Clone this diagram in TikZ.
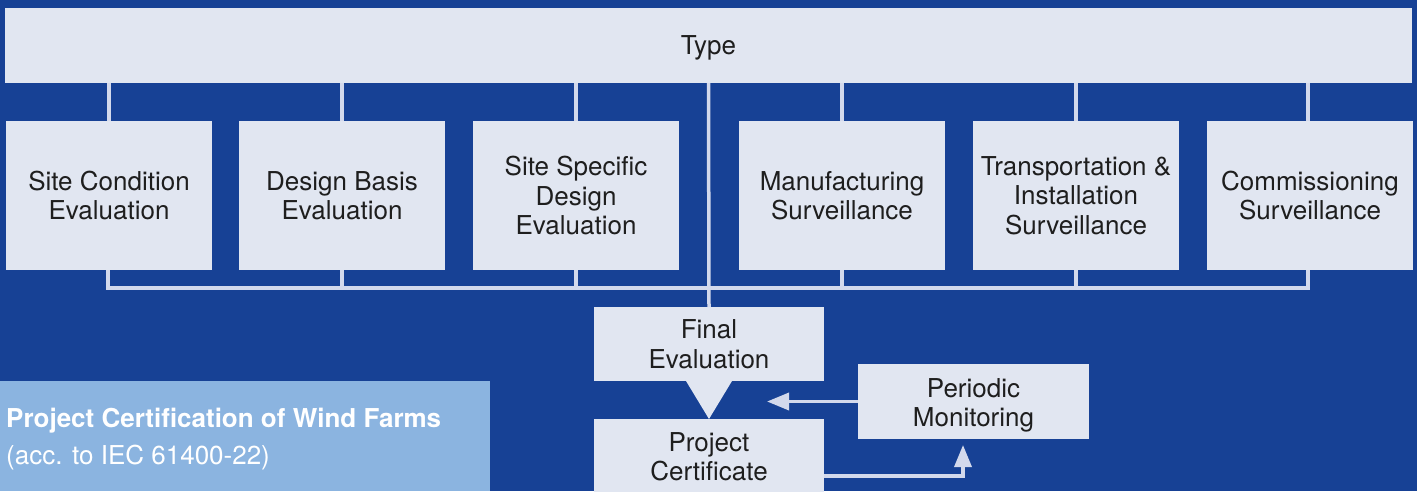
\documentclass[tikz,border=0pt]{standalone}
\usepackage{fontspec}
\setmainfont{TeX Gyre Heros}
\usetikzlibrary{arrows.meta,calc}
\definecolor{bgblue}{HTML}{174195}
\definecolor{boxfill}{HTML}{E1E6F1}
\definecolor{linec}{HTML}{D3D9EC}
\definecolor{labelblue}{HTML}{8BB4E0}
\definecolor{txt}{HTML}{1E1E1E}
\begin{document}
\begin{tikzpicture}[x=1pt,y=-1pt,
  box/.style={fill=boxfill,draw=none,inner sep=0pt,outer sep=0pt,text=txt,align=center,
    font=\fontsize{26}{29.5}\selectfont},
  stagebox/.style={box,minimum width=206pt,minimum height=149pt},
  conn/.style={draw=linec,line width=3.5pt},
  arr/.style={conn,-{Triangle[length=22pt,width=17pt]}},
  lbl/.style={text=white,inner sep=0pt,anchor=base west,font=\fontsize{26}{30}\selectfont}]
\useasboundingbox (0,0) rectangle (1417,491);
\fill[bgblue] (0,0) rectangle (1417,491);
% top bar
\node[box,minimum width=1407pt,minimum height=75pt,text depth=0pt] (tb) at (708.5,45.5) {Type};
% stage boxes
\node[stagebox] (b1) at (109,195.5) {Site Condition\\Evaluation};
\node[stagebox] (b2) at (342,195.5) {Design Basis\\Evaluation};
\node[stagebox] (b3) at (576,195.5) {Site Specific\\Design\\Evaluation};
\node[stagebox] (b4) at (842,195.5) {Manufacturing\\Surveillance};
\node[stagebox] (b5) at (1076,195.5) {Transportation \&\\Installation\\Surveillance};
\node[stagebox] (b6) at (1310,195.5) {Commissioning\\Surveillance};
% final evaluation and certificate
\node[box,minimum width=230pt,minimum height=74pt] (fe) at (709,344) {Final\\Evaluation};
\node[box,minimum width=230pt,minimum height=75pt] (pc) at (709,456.5) {Project\\Certificate};
\node[box,minimum width=231pt,minimum height=75pt] (pm) at (973.5,401.5) {};
\node[box,fill=none] (pmt) at ([yshift=-4pt]pm.center) {Periodic\\Monitoring};
% triangle
\fill[boxfill] ([xshift=-23pt]fe.south) -- ([xshift=23pt]fe.south) -- ([yshift=-38pt]fe.south) -- cycle;
% connectors from top bar
\foreach \b in {b1,b2,b3,b4,b5}{
  \draw[conn] (\b.north) -- (\b.north |- tb.south);
}
\draw[conn] ([xshift=-2pt]b6.north) -- ([xshift=-2pt]b6.north |- tb.south);
\draw[conn] (tb.south) -- (fe.north);
% bottom collector
\coordinate (hb) at (0,288);
\draw[conn,line join=miter] ([xshift=-1pt]b1.south) -- ([xshift=-1pt]b1.south |- hb) -- ([xshift=-2pt]b6.south |- hb) -- ([xshift=-2pt]b6.south);
\foreach \b in {b2,b3,b4,b5}{
  \draw[conn] (\b.south) -- (\b.south |- hb);
}
% arrows
\coordinate (fbtip) at (767,401.5);
\draw[arr] (pm.west) -- (fbtip);
\draw[arr] ([yshift=-19.5pt]pc.east) -| ([xshift=-10.5pt,yshift=-6pt]pm.south);
% label box
\fill[labelblue] (0,381) rectangle (490,491);
\node[lbl,font=\fontsize{26}{30}\selectfont\bfseries] (l1) at (6,427) {Project Certification of Wind Farms};
\node[lbl] (l2) at (6,464) {(acc. to IEC 61400-22)};
\end{tikzpicture}
\end{document}
